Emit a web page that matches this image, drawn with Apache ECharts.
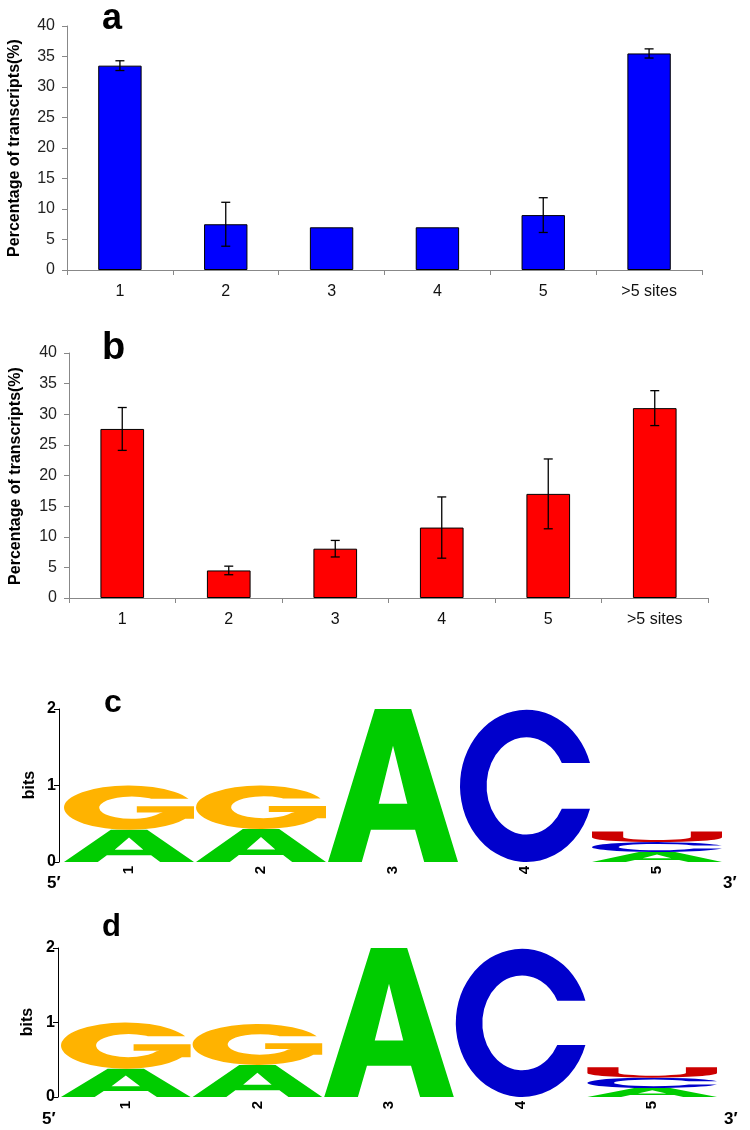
<!DOCTYPE html>
<html><head><meta charset="utf-8">
<script src="https://cdn.jsdelivr.net/npm/echarts@6/dist/echarts.min.js"></script>
<style>html,body{margin:0;padding:0;background:#fff}#c{width:750px;height:1130px}</style>
</head><body><div id="c"></div>
<script>
// ---- Data ----
const categories = ['1', '2', '3', '4', '5', '>5 sites'];
const valuesA = [33.5, 7.5, 7.0, 7.0, 9.0, 35.5];
const errorsA = [0.8, 3.6, 0, 0, 2.85, 0.75];
const valuesB = [27.6, 4.5, 8.05, 11.5, 17.0, 31.0];
const errorsB = [3.5, 0.7, 1.35, 5.0, 5.7, 2.85];

const logoPositions = ['1', '2', '3', '4', '5'];
const logoLetters = ['A', 'C', 'G', 'U'];   // stacking order bottom -> top
const logoC_A = [0.42, 0.43, 2.0, 0, 0.13];
const logoC_C = [0, 0, 0, 1.99, 0.13];
const logoC_G = [0.58, 0.57, 0, 0, 0];
const logoC_U = [0, 0, 0, 0, 0.14];
const logoD_A = [0.38, 0.43, 2.0, 0, 0.12];
const logoD_C = [0, 0, 0, 1.99, 0.14];
const logoD_G = [0.62, 0.55, 0, 0, 0];
const logoD_U = [0, 0, 0, 0, 0.14];

// ---- Glyph shapes (unit box 100x100) ----
const GLYPHS = {
  A: 'M0 100 L36 0 L64 0 L100 100 L74 100 L67 79 L33 79 L26 100 Z M39 62 L61 62 L50 24 Z',
  C: 'M97.7 35 A50 50 0 1 0 97.7 65 L76.5 65 A30 32 0 1 1 76.5 35 Z',
  G: 'M95.8 30 A50 50 0 1 0 93.3 75 L100 75 L100 47 L56 47 L56 61 L76 61 L73.65 62.5 A25 25 0 1 1 67 30 Z',
  U: 'M0 0 L24 0 L24 55 A26 26 0 0 0 76 55 L76 0 L100 0 L100 55 A50 45 0 0 1 0 55 Z'
};
const GLYPH_COLORS = { A: '#00CC00', C: '#0000CC', G: '#FFB300', U: '#CC0000' };

const FONT = 'Liberation Sans, Arial, sans-serif';

function stackLogo(A, C, G, U) {
  const cols = [A, C, G, U];
  const out = [];
  for (let i = 0; i < logoPositions.length; i++) {
    let base = 0;
    for (let k = 0; k < cols.length; k++) {
      const h = cols[k][i];
      if (h > 0) { out.push([i, base, base + h, k]); base += h; }
    }
  }
  return out;
}
function errData(vals, errs) {
  const out = [];
  vals.forEach((v, i) => { if (errs[i] > 0) out.push([i, v - errs[i], v + errs[i]]); });
  return out;
}

function renderErr(params, api) {
  const x = api.value(0);
  const lo = api.coord([x, api.value(1)]);
  const hi = api.coord([x, api.value(2)]);
  const h = 4.5;
  const st = { stroke: '#000', lineWidth: 1.3 };
  return { type: 'group', children: [
    { type: 'line', shape: { x1: lo[0], y1: lo[1], x2: hi[0], y2: hi[1] }, style: st },
    { type: 'line', shape: { x1: hi[0] - h, y1: hi[1], x2: hi[0] + h, y2: hi[1] }, style: st },
    { type: 'line', shape: { x1: lo[0] - h, y1: lo[1], x2: lo[0] + h, y2: lo[1] }, style: st }
  ]};
}
function renderGlyph(params, api) {
  const i = api.value(0);
  const top = api.coord([i, api.value(2)]);
  const bot = api.coord([i, api.value(1)]);
  const w = api.size([1, 0])[0];
  const L = logoLetters[api.value(3)];
  return {
    type: 'path',
    shape: { pathData: GLYPHS[L], x: top[0] - w / 2 + 1, y: top[1], width: w - 2, height: bot[1] - top[1], layout: 'cover' },
    style: { fill: GLYPH_COLORS[L] }
  };
}

const barX = (i) => ({
  type: 'category', gridIndex: i, data: categories,
  axisLine: { lineStyle: { color: '#888', width: 1 } },
  axisTick: { show: true, length: 5, lineStyle: { color: '#888' } },
  axisLabel: { margin: 14, fontSize: 16, color: '#111', fontFamily: FONT }
});
const barY = (i) => ({
  type: 'value', gridIndex: i, min: 0, max: 40, interval: 5,
  splitLine: { show: false },
  axisLine: { show: true, lineStyle: { color: '#888', width: 1 } },
  axisTick: { show: true, length: 5, lineStyle: { color: '#888' } },
  axisLabel: { margin: 12, fontSize: 16, color: '#222', fontFamily: FONT }
});
const logoX = (i) => ({
  type: 'category', gridIndex: i, data: logoPositions,
  axisLine: { show: false }, axisTick: { show: false },
  axisLabel: { rotate: 90, margin: 4, fontSize: 15, fontWeight: 'bold', color: '#000', fontFamily: FONT }
});
const logoY = (i, off) => ({
  type: 'value', gridIndex: i, min: 0, max: 2, interval: 1, offset: off,
  splitLine: { show: false },
  axisLine: { show: true, lineStyle: { color: '#000', width: 1 } },
  axisTick: { show: true, length: 5, lineStyle: { color: '#000' } },
  axisLabel: { margin: 3, fontSize: 16, fontWeight: 'bold', color: '#000', fontFamily: FONT }
});

const txt = (text, x, y, size) => ({
  type: 'text', x: x, y: y,
  style: { text: text, font: 'bold ' + size + 'px ' + FONT, fill: '#000', align: 'left', verticalAlign: 'middle' }
});
const rtxt = (text, x, y, size) => ({
  type: 'text', x: x, y: y, rotation: Math.PI / 2,
  style: { text: text, font: 'bold ' + size + 'px ' + FONT, fill: '#000', align: 'center', verticalAlign: 'middle' }
});

const option = {
  backgroundColor: '#fff',
  animation: false,
  grid: [
    { left: 67, top: 26, width: 635, height: 244 },
    { left: 69, top: 353, width: 639, height: 245 },
    { left: 63, top: 709, width: 660, height: 153 },
    { left: 60, top: 948, width: 658, height: 149 }
  ],
  xAxis: [barX(0), barX(1), logoX(2), logoX(3)],
  yAxis: [barY(0), barY(1), logoY(2, 4), logoY(3, 2)],
  series: [
    { type: 'bar', xAxisIndex: 0, yAxisIndex: 0, data: valuesA, barWidth: '41%',
      itemStyle: { color: '#0000FF', borderColor: '#000', borderWidth: 1 } },
    { type: 'custom', xAxisIndex: 0, yAxisIndex: 0, data: errData(valuesA, errorsA), renderItem: renderErr, z: 5 },
    { type: 'bar', xAxisIndex: 1, yAxisIndex: 1, data: valuesB, barWidth: '41%',
      itemStyle: { color: '#FF0000', borderColor: '#000', borderWidth: 1 } },
    { type: 'custom', xAxisIndex: 1, yAxisIndex: 1, data: errData(valuesB, errorsB), renderItem: renderErr, z: 5 },
    { type: 'custom', xAxisIndex: 2, yAxisIndex: 2, data: stackLogo(logoC_A, logoC_C, logoC_G, logoC_U),
      encode: { x: 0, y: [1, 2] }, renderItem: renderGlyph },
    { type: 'custom', xAxisIndex: 3, yAxisIndex: 3, data: stackLogo(logoD_A, logoD_C, logoD_G, logoD_U),
      encode: { x: 0, y: [1, 2] }, renderItem: renderGlyph }
  ],
  graphic: [
    txt('a', 102, 19, 36),
    txt('b', 102, 349, 38),
    txt('c', 104, 703, 32),
    txt('d', 102, 927, 31),
    rtxt('Percentage of transcripts(%)', 15, 148, 16),
    rtxt('Percentage of transcripts(%)', 16, 476, 16),
    rtxt('bits', 30, 785, 16),
    rtxt('bits', 28, 1022, 16),
    txt('5\u2032', 47, 883, 17),
    txt('3\u2032', 723, 883, 17),
    txt('5\u2032', 42, 1119, 17),
    txt('3\u2032', 724, 1119, 17)
  ]
};

const chart = echarts.init(document.getElementById('c'));
chart.setOption(option);
</script>
</body></html>
